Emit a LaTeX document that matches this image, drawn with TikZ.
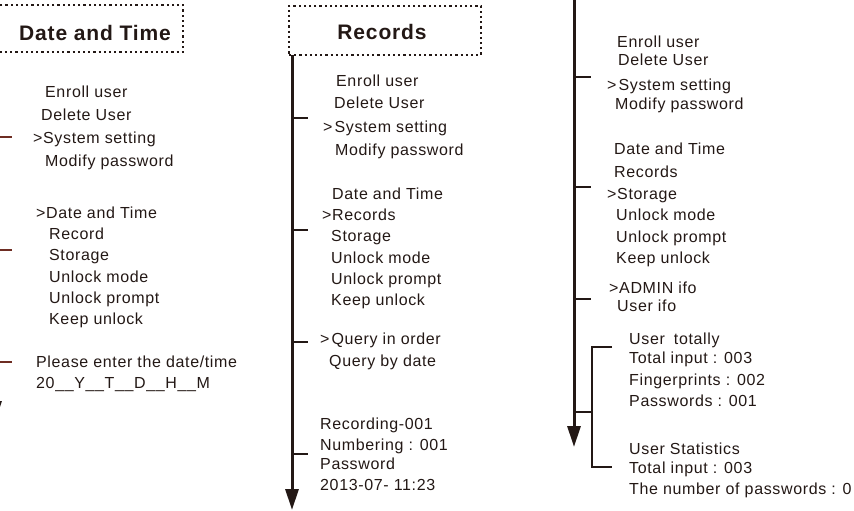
\documentclass[tikz,border=0pt]{standalone}
\usepackage{fontspec}
\setmainfont[LetterSpace=4]{Liberation Sans}
\usepackage{tikz}
\usetikzlibrary{arrows.meta}

\definecolor{ink}{RGB}{35,24,21}
\definecolor{rust}{RGB}{110,45,35}

\begin{document}
\begin{tikzpicture}[x=1pt, y=-1pt]
		\tikzset{item/.style={anchor = base west, inner sep = 0pt, text = ink, font = \fontsize{16}{19}\selectfont}}
		\tikzset{title/.style={inner sep = 0pt, text = ink, font = \fontsize{21}{24}\selectfont\bfseries}}
		\tikzset{titlebox/.style={draw = ink, line width = 1.4pt, dash pattern = on 2.2pt off 3pt, inner sep = 0pt}}
		\tikzset{spine/.style={draw = ink, line width = 3pt, -{Triangle[length = 21pt, width = 13pt]}}}
		\tikzset{tick/.style={draw = ink, line width = 1.3pt}}
		\useasboundingbox (0, 0) rectangle (854, 511);
		%titles
		\node[titlebox, minimum width = 230, minimum height = 47] (dBox) at (68, 28.5) {};
		\node[title] (dTitle) at (95, 33) {Date and Time};
		\node[titlebox, minimum width = 192, minimum height = 49] (rBox) at (385, 30.5) {};
		\node[title] (rTitle) at (382, 32) {Records};
		%date and time column
		\node[item] (dEnroll) at (45, 97) {Enroll user};
		\node[item] (dDelete) at (41, 120) {Delete User};
		\node[item] (dSys) at (33, 143) {>System setting};
		\node[item] (dModify) at (45, 166) {Modify password};
		\node[item] (dDate) at (36, 218) {>Date and Time};
		\node[item] (dRecord) at (49, 239) {Record};
		\node[item] (dStorage) at (49, 260) {Storage};
		\node[item] (dMode) at (49, 282) {Unlock mode};
		\node[item] (dPrompt) at (49, 303) {Unlock prompt};
		\node[item] (dKeep) at (49, 324) {Keep unlock};
		\node[item] (dPlease) at (36, 367) {Please enter the date/time};
		\node[item] (dFormat) at (36, 388) {20\_\_Y\_\_T\_\_D\_\_H\_\_M};
		%records column
		\node[item] (rEnroll) at (336, 86) {Enroll user};
		\node[item] (rDelete) at (334, 108) {Delete User};
		\node[item] (rSys) at (323, 132) {>\hspace{2pt}System setting};
		\node[item] (rModify) at (335, 155) {Modify password};
		\node[item] (rDate) at (332, 199) {Date and Time};
		\node[item] (rRecords) at (322, 220) {>Records};
		\node[item] (rStorage) at (331, 241) {Storage};
		\node[item] (rMode) at (331, 263) {Unlock mode};
		\node[item] (rPrompt) at (331, 284) {Unlock prompt};
		\node[item] (rKeep) at (331, 305) {Keep unlock};
		\node[item] (rOrder) at (320, 344) {>\hspace{2pt}Query in order};
		\node[item] (rByDate) at (329, 366) {Query by date};
		\node[item] (rRecording) at (320, 429) {Recording-001};
		\node[item] (rNumber) at (320, 450) {Numbering : 001};
		\node[item] (rPassword) at (320, 469) {Password};
		\node[item] (rStamp) at (320, 490) {2013-07- 11:23};
		%storage column
		\node[item] (aEnroll) at (617, 48) {Enroll user};
		\node[item] (aDelete) at (618, 66) {Delete User};
		\node[item] (aSys) at (607, 90) {>\hspace{2pt}System setting};
		\node[item] (aModify) at (615, 110) {Modify password};
		\node[item] (aDate) at (614, 154) {Date and Time};
		\node[item] (aRecords) at (614, 177) {Records};
		\node[item] (aStorage) at (607, 199) {>Storage};
		\node[item] (aMode) at (616, 220) {Unlock mode};
		\node[item] (aPrompt) at (616, 242) {Unlock prompt};
		\node[item] (aKeep) at (616, 263) {Keep unlock};
		\node[item] (aAdmin) at (609, 293) {>ADMIN ifo};
		\node[item] (aUser) at (617, 311) {User ifo};
		\node[item] (aTotally) at (629, 344) {User\hspace{4pt} totally};
		\node[item] (aInput) at (629, 363) {Total input : 003};
		\node[item] (aFinger) at (629, 385) {Fingerprints : 002};
		\node[item] (aPwd) at (629, 406) {Passwords : 001};
		\node[item] (aStats) at (629, 454) {User Statistics};
		\node[item] (aInputB) at (629, 473) {Total input : 003};
		\node[item] (aNumber) at (629, 494) {The number of passwords : 0};
		%spines
		\coordinate (dTop) at (-5, 52);
		\coordinate (dEnd) at (-5, 422);
		\coordinate (rTop) at (292, 55);
		\coordinate (rEnd) at (292, 510);
		\coordinate (aTop) at (574, -5);
		\coordinate (aEnd) at (574, 447);
		\draw[spine] (dTop) -- (dEnd);
		\draw[spine] (rTop) -- (rEnd);
		\draw[spine] (aTop) -- (aEnd);
		%ticks
		\coordinate (dT1) at (12, 137);
		\coordinate (dT2) at (12, 250);
		\coordinate (dT3) at (12, 362);
		\draw[tick, draw = rust] (dT1 -| dTop) -- (dT1);
		\draw[tick, draw = rust] (dT2 -| dTop) -- (dT2);
		\draw[tick, draw = rust] (dT3 -| dTop) -- (dT3);
		\coordinate (rT1) at (308, 118);
		\coordinate (rT2) at (308, 230);
		\coordinate (rT3) at (308, 342);
		\coordinate (rT4) at (308, 454);
		\draw[tick] (rT1 -| rTop) -- (rT1);
		\draw[tick] (rT2 -| rTop) -- (rT2);
		\draw[tick] (rT3 -| rTop) -- (rT3);
		\draw[tick] (rT4 -| rTop) -- (rT4);
		\coordinate (aT1) at (591, 77);
		\coordinate (aT2) at (591, 187);
		\coordinate (aT3) at (591, 299);
		\draw[tick] (aT1 -| aTop) -- (aT1);
		\draw[tick] (aT2 -| aTop) -- (aT2);
		\draw[tick] (aT3 -| aTop) -- (aT3);
		%user bracket
		\coordinate (aB) at (592, 412);
		\coordinate (aB1) at (612, 347);
		\coordinate (aB2) at (612, 467);
		\draw[tick] (aB -| aTop) -- (aB);
		\draw[tick] (aB1) -| (aB) |- (aB2);
\end{tikzpicture}
\end{document}
